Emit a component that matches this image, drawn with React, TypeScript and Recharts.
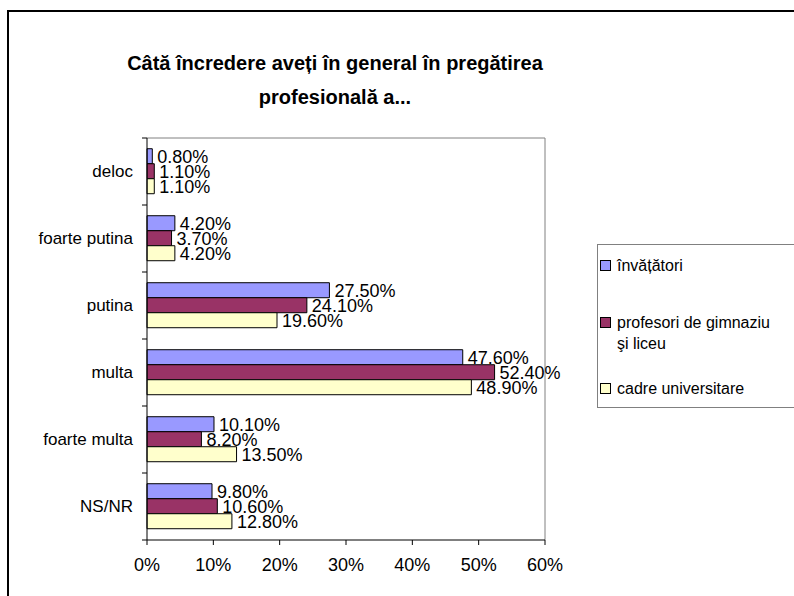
import { BarChart, Bar, XAxis, YAxis, CartesianGrid, LabelList } from "recharts";

const categories = ["deloc", "foarte putina", "putina", "multa", "foarte multa", "NS/NR"];
const invatatori = [0.8, 4.2, 27.5, 47.6, 10.1, 9.8];
const profesori = [1.1, 3.7, 24.1, 52.4, 8.2, 10.6];
const cadre = [1.1, 4.2, 19.6, 48.9, 13.5, 12.8];
const xTicks = [0, 10, 20, 30, 40, 50, 60];

const titleLines = ["Câtă încredere aveți în general în pregătirea", "profesională a..."];

const series = [
  { key: "inv", color: "#9999FF", lines: ["învățători"] },
  { key: "prof", color: "#993366", lines: ["profesori de gimnaziu", "şi liceu"] },
  { key: "cadre", color: "#FFFFCC", lines: ["cadre universitare"] },
];

const rows = categories.map((cat, i) => ({
  cat,
  inv: invatatori[i],
  prof: profesori[i],
  cadre: cadre[i],
}));

const FONT = "'Liberation Sans', Arial, sans-serif";

const pct = (v: number) => `${v.toFixed(2)}%`;

// category label + tick marks on the band boundaries (Excel style)
const CategoryTick = (props: any) => {
  const { x, y, payload, index } = props;
  const half = payload && payload.offset ? payload.offset : 33.5;
  const axisX = x + 14;
  return (
    <g>
      <line x1={axisX - 5} x2={axisX} y1={y - half} y2={y - half} stroke="#000" />
      {index === categories.length - 1 && (
        <line x1={axisX - 5} x2={axisX} y1={y + half} y2={y + half} stroke="#000" />
      )}
      <text x={x} y={y} dy="0.35em" textAnchor="end" fill="#000" fontSize={17} fontFamily={FONT}>
        {payload.value}
      </text>
    </g>
  );
};

export default function App() {
  return (
    <div
      style={{
        position: "absolute",
        left: 0,
        top: 0,
        width: 794,
        height: 596,
        overflow: "hidden",
        background: "#fff",
        fontFamily: FONT,
      }}
    >
      <div
        style={{
          position: "absolute",
          left: 7,
          top: 10,
          width: 900,
          height: 700,
          border: "2px solid #000",
        }}
      />
      <div
        style={{
          position: "absolute",
          left: 0,
          top: 46,
          width: 670,
          textAlign: "center",
          fontSize: 20,
          fontWeight: "bold",
          lineHeight: "34px",
          color: "#000",
        }}
      >
        {titleLines.map((l) => (
          <div key={l}>{l}</div>
        ))}
      </div>

      <div style={{ position: "absolute", left: 0, top: 0 }}>
        <BarChart
          width={794}
          height={596}
          data={rows}
          layout="vertical"
          margin={{ top: 138, right: 249, bottom: 16, left: 0 }}
          barCategoryGap="16%"
          barGap={0}
        >
          <CartesianGrid
            stroke="#808080"
            horizontalCoordinatesGenerator={({ offset }: any) => [offset.top]}
            verticalCoordinatesGenerator={({ offset }: any) => [offset.left + offset.width]}
          />
          <XAxis
            type="number"
            domain={[0, 60]}
            ticks={xTicks}
            interval={0}
            tickFormatter={(v) => `${v}%`}
            stroke="#000"
            tickSize={5}
            tickMargin={13}
            height={40}
            tick={{ fill: "#000", fontSize: 18, fontFamily: FONT }}
          />
          <YAxis
            type="category"
            dataKey="cat"
            width={147}
            stroke="#000"
            tickLine={false}
            tickSize={5}
            tickMargin={9}
            interval={0}
            tick={<CategoryTick />}
          />
          {series.map((s) => (
            <Bar
              key={s.key}
              dataKey={s.key}
              fill={s.color}
              stroke="#000"
              strokeWidth={1}
              isAnimationActive={false}
            >
              <LabelList
                dataKey={s.key}
                position="right"
                offset={5}
                formatter={(v: any) => pct(Number(v))}
                fill="#000"
                fontSize={18}
                fontFamily={FONT}
              />
            </Bar>
          ))}
        </BarChart>
      </div>

      <div
        style={{
          position: "absolute",
          left: 597,
          top: 244,
          width: 240,
          height: 164,
          border: "1px solid #808080",
          boxSizing: "border-box",
          paddingTop: 10,
          fontSize: 16,
          color: "#000",
        }}
      >
        {series.map((s, i) => (
          <div
            key={s.key}
            style={{ position: "relative", paddingLeft: 19, lineHeight: "21px", marginTop: i === 0 ? 0 : i === 1 ? 36 : 24 }}
          >
            <span
              style={{
                position: "absolute",
                left: 2,
                top: 5,
                width: 9,
                height: 9,
                background: s.color,
                border: "1px solid #000",
              }}
            />
            {s.lines.map((l) => (
              <div key={l} style={{ whiteSpace: "nowrap" }}>
                {l}
              </div>
            ))}
          </div>
        ))}
      </div>
    </div>
  );
}
